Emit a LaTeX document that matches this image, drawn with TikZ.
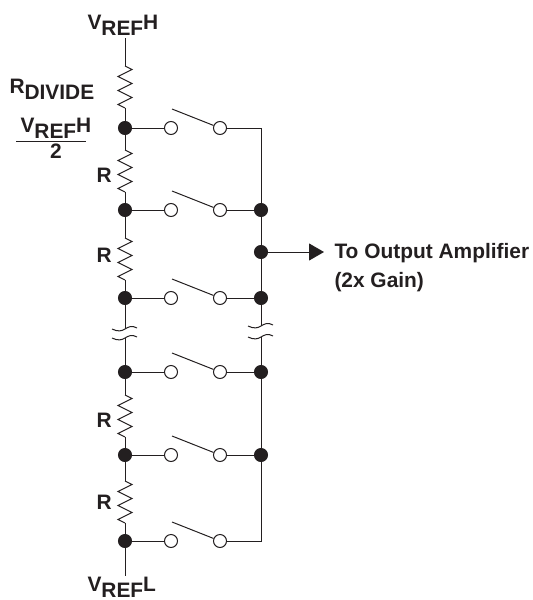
\documentclass[tikz,border=0pt]{standalone}
\usepackage{fontspec}
\setmainfont{Liberation Sans}
\usetikzlibrary{arrows.meta, decorations.pathmorphing}
\definecolor{inkdark}{HTML}{231F20}
\newcommand{\subdrop}[1]{\raisebox{-6pt}{#1}}

\begin{document}
\begin{tikzpicture}[x=1pt, y=-1pt, line width=1pt, draw=inkdark, text=inkdark,
		font=\bfseries\fontsize{20.9}{24}\selectfont,
		solid dot/.style={circle, fill=inkdark, draw=inkdark, inner sep=0pt, minimum size=13pt},
		open dot/.style={circle, fill=white, draw=inkdark, inner sep=0pt, minimum size=13pt},
		zigzag res/.style={decorate, decoration={zigzag, amplitude=7pt, segment length=14pt}},
		label text/.style={inner sep=0pt, anchor=base west}]
	\useasboundingbox (0,0) rectangle (533,600);
	
	% Taps and switches
	\foreach \name/\ypos in {a/128, b/210, c/298, d/372, e/455, f/541} {
		\node[solid dot] (tap\name) at (125,\ypos) {};
		\node[open dot] (in\name) at (171,\ypos) {};
		\node[open dot] (out\name) at (220,\ypos) {};
		\coordinate (arm\name) at (172,\ypos-19);
		\draw (tap\name) -- (in\name);
		\draw (out\name) -- (arm\name);
	}
	
	% Right rail
	\coordinate (raila) at (261,128);
	\coordinate (railf) at (261,541);
	\foreach \name/\ypos in {b/210, c/298, d/372, e/455} {
		\node[solid dot] (rail\name) at (261,\ypos) {};
	}
	\node[solid dot] (railout) at (261,252) {};
	\foreach \name in {a, b, c, d, e, f} {
		\draw (out\name) -- (rail\name);
	}
	\coordinate (breakru) at (261,326);
	\coordinate (breakrl) at (261,337);
	\draw[line cap=rect] (raila) -- (railb);
	\draw (railb) -- (railout);
	\draw (railout) -- (railc);
	\draw (railc) -- (breakru);
	\draw (breakrl) -- (raild);
	\draw (raild) -- (raile);
	\draw[line cap=rect] (raile) -- (railf);
	
	% Left rail with resistors
	\coordinate (top) at (125,38);
	\coordinate (bottom) at (125,576);
	\coordinate (breaklu) at (125,329);
	\coordinate (breakll) at (125,338);
	\foreach \from/\to/\ystart in {top/tapa/66, tapa/tapb/150, tapb/tapc/238, tapd/tape/395, tape/tapf/481} {
		\coordinate (resin) at (125,\ystart);
		\coordinate (resout) at (125,\ystart+42);
		\draw (\from) -- (resin);
		\draw[zigzag res] (resin) -- (resout);
		\draw (resout) -- (\to);
	}
	\draw (tapc) -- (breaklu);
	\draw (breakll) -- (tapd);
	\draw (tapf) -- (bottom);
	
	% Break marks
	\foreach \brk in {breaklu, breakll, breakru, breakrl} {
		\draw ([shift={(-13,0)}]\brk) .. controls +(6,3) and +(-3,2) .. (\brk) .. controls +(3,-2) and +(-5,-3) .. ([shift={(12,-1)}]\brk);
	}
	
	% Output arrow
	\coordinate (outtip) at (324,252);
	\draw[-{Triangle[length=15pt, width=17pt]}] (railout) -- (outtip);
	
	% Labels
	\node[label text] (vrefh) at (87,29) {V\subdrop{REF}H};
	\node[label text] (rdivide) at (9,93) {R\subdrop{DIVIDE}};
	\node[label text] (halfnum) at (20,132) {V\subdrop{REF}H};
	\coordinate (barl) at (16,141);
	\coordinate (barr) at (86,141);
	\draw (barl) -- (barr);
	\node[label text, anchor=base] (halfden) at (56,158) {2};
	\foreach \name/\ypos in {ra/182, rb/262, rc/427, rd/509} {
		\node[label text] (\name) at (96,\ypos) {R};
	}
	\node[label text] (outa) at (334,258) {To Output Amplifier};
	\node[label text] (outb) at (334,287) {(2x Gain)};
	\node[label text] (vrefl) at (87,591) {V\subdrop{REF}L};
\end{tikzpicture}
\end{document}
